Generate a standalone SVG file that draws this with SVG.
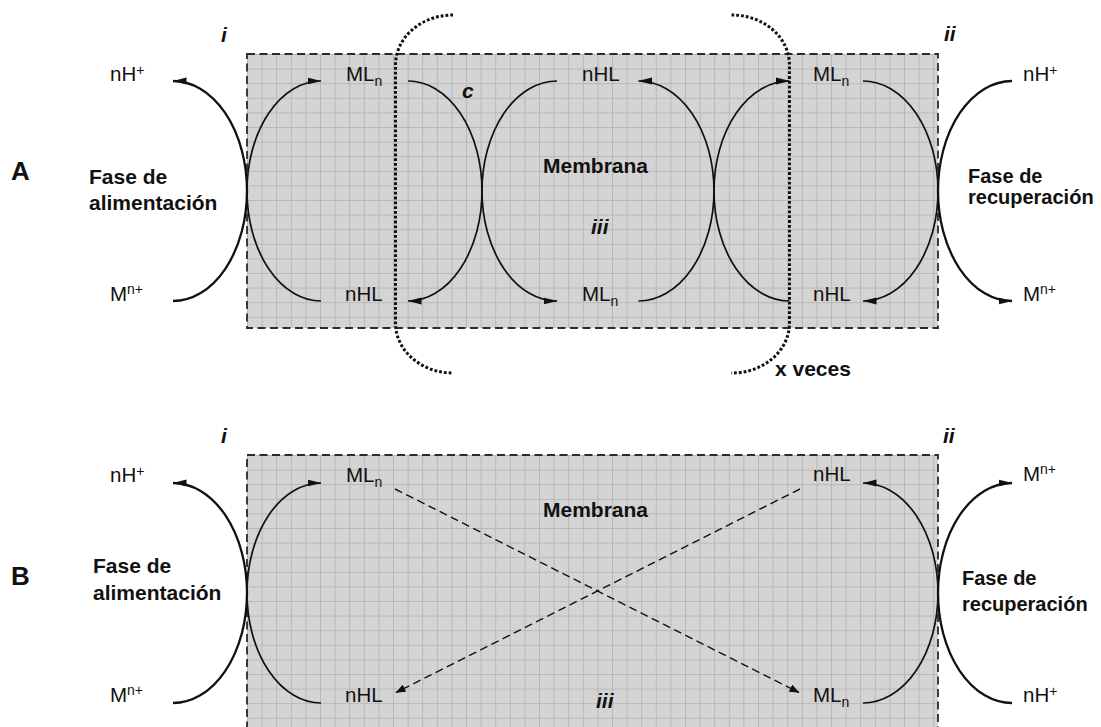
<svg xmlns="http://www.w3.org/2000/svg" width="1101" height="727" viewBox="0 0 1101 727">
  <style>
    .lbl { font-family: "Liberation Sans", Arial, sans-serif; font-size: 20.5px; fill: #111; }
    .bold { font-family: "Liberation Sans", Arial, sans-serif; font-weight: bold; font-size: 21px; fill: #111; }
    .ital { font-family: "Liberation Sans", Arial, sans-serif; font-weight: bold; font-style: italic; font-size: 21px; fill: #111; }
    .panel { font-family: "Liberation Sans", Arial, sans-serif; font-weight: bold; font-size: 26px; fill: #111; }
    .sup, .sub { font-size: 14px; }
    .membrane { stroke: #2b2b2b; stroke-width: 1.8; stroke-dasharray: 8 4.5; }
    .outer { fill: none; stroke: #111; stroke-width: 2.3; marker-end: url(#head); }
    .inner { fill: none; stroke: #111; stroke-width: 1.7; marker-end: url(#head); }
    .cross { fill: none; stroke: #111; stroke-width: 1.4; stroke-dasharray: 8 4.5; marker-end: url(#headSmall); }
    .bracket { fill: none; stroke: #111; stroke-width: 3; stroke-dasharray: 2.8 2; }
  </style>
  <defs>
    <pattern id="gridA" x="247" y="54" width="14.6" height="14.6" patternUnits="userSpaceOnUse">
      <rect width="14.6" height="14.6" fill="#d4d4d4"/>
      <path d="M0.5,0 V14.6 M0,0.5 H14.6" stroke="#b8b8b8" stroke-width="1" fill="none"/>
    </pattern>
    <pattern id="gridB" x="247" y="455" width="14.6" height="14.6" patternUnits="userSpaceOnUse">
      <rect width="14.6" height="14.6" fill="#d4d4d4"/>
      <path d="M0.5,0 V14.6 M0,0.5 H14.6" stroke="#b8b8b8" stroke-width="1" fill="none"/>
    </pattern>
    <marker id="head" viewBox="0 0 14 8" refX="13.5" refY="4" markerWidth="14" markerHeight="8" markerUnits="userSpaceOnUse" orient="auto">
      <path d="M0,0.6 L14,4 L0,7.4 z" fill="#111"/>
    </marker>
    <marker id="headSmall" viewBox="0 0 10 8" refX="9.5" refY="4" markerWidth="10" markerHeight="8" markerUnits="userSpaceOnUse" orient="auto">
      <path d="M0,0 L10,4 L0,8 z" fill="#111"/>
    </marker>
  </defs>

  <rect width="1101" height="727" fill="#ffffff"/>

  <!-- membranes -->
  <g id="membrane-A">
    <rect x="247" y="54" width="691" height="274" fill="url(#gridA)" class="membrane"/>
  </g>
  <g id="membrane-B">
    <rect x="247" y="455" width="691" height="290" fill="url(#gridB)" class="membrane"/>
  </g>

  <!-- repeated-cycle bracket -->
  <g id="repeat-bracket">
    <path class="bracket" d="M453,15 A57.5,50 0 0 0 395.5,65 V323 A57.5,50 0 0 0 453,373"/>
    <path class="bracket" d="M731.5,15 A57.5,50 0 0 1 789.5,65 V323 A57.5,50 0 0 1 731.5,373"/>
  </g>

  <!-- connectors -->
  <g id="connectors">
    <!-- A: feed phase -->
    <path class="outer" d="M173,301 A74,110 0 0 0 247,191 A74,110 0 0 0 173,81"/>
    <path class="inner" d="M321,301 A74,110 0 0 1 247,191 A74,110 0 0 1 321,81"/>
    <!-- A: transport cycle through the membrane -->
    <path class="inner" d="M408,81 A74,110 0 0 1 482,191 A74,110 0 0 1 408,301"/>
    <path class="inner" d="M557,81 A75,110 0 0 0 482,191 A75,110 0 0 0 557,301"/>
    <path class="inner" d="M638.5,301 A75.5,110 0 0 0 714,191 A75.5,110 0 0 0 638.5,81"/>
    <path class="inner" d="M789.5,301 A75.5,110 0 0 1 714,191 A75.5,110 0 0 1 789.5,81"/>
    <!-- A: recovery phase -->
    <path class="inner" d="M863,81 A75,110 0 0 1 938,191 A75,110 0 0 1 863,301"/>
    <path class="outer" d="M1012,81 A74,110 0 0 0 938,191 A74,110 0 0 0 1012,301"/>

    <!-- B: feed phase -->
    <path class="outer" d="M173,703 A74,110 0 0 0 247,593 A74,110 0 0 0 173,483"/>
    <path class="inner" d="M321,703 A74,110 0 0 1 247,593 A74,110 0 0 1 321,483"/>
    <!-- B: recovery phase -->
    <path class="inner" d="M863,703 A75,110 0 0 0 938,593 A75,110 0 0 0 863,483"/>
    <path class="outer" d="M1012,703 A74,110 0 0 1 938,593 A74,110 0 0 1 1012,483"/>
    <!-- B: diffusion across the membrane -->
    <path class="cross" d="M395,489 L799,692.5"/>
    <path class="cross" d="M800,489 L396,692.5"/>
  </g>

  <!-- A labels -->
  <g id="panel-A">
    <text class="panel" x="11" y="180">A</text>
  </g>
  <g id="A-feed-phase">
    <text class="bold" x="89" y="184">Fase de</text>
    <text class="bold" x="89" y="209.5">alimentación</text>
    <text class="ital" x="221" y="41.5">i</text>
  </g>
  <g id="A-feed-H">
    <text class="lbl" x="110" y="81">nH<tspan class="sup" dy="-6">+</tspan></text>
  </g>
  <g id="A-feed-M">
    <text class="lbl" x="110" y="301">M<tspan class="sup" dy="-7">n+</tspan></text>
  </g>
  <g id="A-MLn-1">
    <text class="lbl" x="346" y="81">ML<tspan class="sub" dy="5">n</tspan></text>
  </g>
  <g id="A-nHL-1">
    <text class="lbl" x="345" y="301">nHL</text>
  </g>
  <g id="A-c">
    <text class="ital" x="462" y="98">c</text>
  </g>
  <g id="A-nHL-2">
    <text class="lbl" x="582" y="81">nHL</text>
  </g>
  <g id="A-MLn-2">
    <text class="lbl" x="582" y="301">ML<tspan class="sub" dy="5">n</tspan></text>
  </g>
  <g id="A-membrane-label">
    <text class="bold" x="543" y="173">Membrana</text>
    <text class="ital" x="591" y="234">iii</text>
  </g>
  <g id="A-MLn-3">
    <text class="lbl" x="813" y="81">ML<tspan class="sub" dy="5">n</tspan></text>
  </g>
  <g id="A-nHL-3">
    <text class="lbl" x="813" y="301">nHL</text>
  </g>
  <g id="A-recovery-H">
    <text class="lbl" x="1023" y="81">nH<tspan class="sup" dy="-6">+</tspan></text>
  </g>
  <g id="A-recovery-M">
    <text class="lbl" x="1023" y="301">M<tspan class="sup" dy="-7">n+</tspan></text>
  </g>
  <g id="A-recovery-phase">
    <text class="bold" x="968" y="182.5" style="font-size:20px">Fase de</text>
    <text class="bold" x="968" y="203.5" style="font-size:20px">recuperación</text>
    <text class="ital" x="944" y="41">ii</text>
  </g>
  <g id="A-repeat">
    <text class="bold" x="775" y="376">x veces</text>
  </g>

  <!-- B labels -->
  <g id="panel-B">
    <text class="panel" x="11" y="585">B</text>
  </g>
  <g id="B-feed-phase">
    <text class="bold" x="93" y="573">Fase de</text>
    <text class="bold" x="93" y="600">alimentación</text>
    <text class="ital" x="221" y="443">i</text>
  </g>
  <g id="B-feed-H">
    <text class="lbl" x="110" y="482">nH<tspan class="sup" dy="-6">+</tspan></text>
  </g>
  <g id="B-feed-M">
    <text class="lbl" x="110" y="702">M<tspan class="sup" dy="-7">n+</tspan></text>
  </g>
  <g id="B-MLn-1">
    <text class="lbl" x="346" y="482">ML<tspan class="sub" dy="5">n</tspan></text>
  </g>
  <g id="B-nHL-1">
    <text class="lbl" x="345" y="702">nHL</text>
  </g>
  <g id="B-membrane-label">
    <text class="bold" x="543" y="517">Membrana</text>
    <text class="ital" x="596" y="708">iii</text>
  </g>
  <g id="B-nHL-2">
    <text class="lbl" x="813" y="481">nHL</text>
  </g>
  <g id="B-MLn-2">
    <text class="lbl" x="813" y="702">ML<tspan class="sub" dy="5">n</tspan></text>
  </g>
  <g id="B-recovery-M">
    <text class="lbl" x="1023" y="481">M<tspan class="sup" dy="-7">n+</tspan></text>
  </g>
  <g id="B-recovery-H">
    <text class="lbl" x="1023" y="702">nH<tspan class="sup" dy="-6">+</tspan></text>
  </g>
  <g id="B-recovery-phase">
    <text class="bold" x="962" y="585" style="font-size:20px">Fase de</text>
    <text class="bold" x="962" y="611" style="font-size:20px">recuperación</text>
    <text class="ital" x="943" y="443">ii</text>
  </g>
</svg>
